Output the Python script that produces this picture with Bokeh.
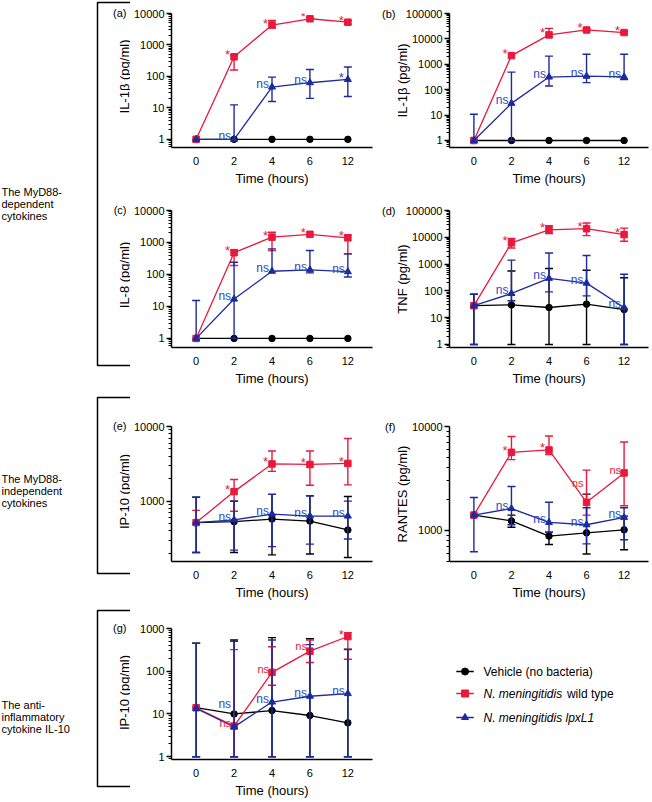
import math
from bokeh.plotting import figure
from bokeh.models import FactorRange, Range1d, FixedTicker, NumeralTickFormatter, LogAxis
from bokeh.layouts import row, column
from bokeh.core.properties import value
from bokeh.embed import file_html
from bokeh.resources import INLINE

# ---------------- data ----------------
TIMES = ["0", "2", "4", "6", "12"]

# (a) IL-1beta
A_VEH = [1, 1, 1, 1, 1]
A_WT = [1, 420, 4300, 6800, 5300]
A_WT_LO = [1, 160, 3500, 6800, 4600]
A_WT_HI = [1, 470, 6000, 7300, 6000]
A_LPX = [1, 1, 46, 63, 80]
A_LPX_LO = [1, 1, 16, 20, 23]
A_LPX_HI = [1, 12.5, 95, 165, 200]
A_SIG_WT = ["", "*", "*", "*", "*"]
A_SIG_LPX = ["", "ns", "ns", "ns", "*"]

# (b) IL-1beta
B_VEH = [1, 1, 1, 1, 1]
B_WT = [1, 2200, 14400, 22500, 17800]
B_WT_LO = [1, 2200, 11700, 20000, 15500]
B_WT_HI = [1, 2200, 26000, 25000, 19500]
B_LPX = [1, 29, 315, 340, 320]
B_LPX_LO = [1, 1, 140, 190, 250]
B_LPX_HI = [10.8, 490, 2100, 2500, 2500]
B_SIG_WT = ["", "*", "*", "*", "*"]
B_SIG_LPX = ["", "ns", "ns", "ns", "ns"]

# (c) IL-8
C_VEH = [1, 1, 1, 1, 1]
C_WT = [1, 480, 1470, 1800, 1400]
C_WT_LO = [1, 190, 560, 1800, 440]
C_WT_HI = [1, 590, 2100, 1800, 1700]
C_LPX = [1, 17, 126, 140, 122]
C_LPX_LO = [1, 1, 126, 112, 83]
C_LPX_HI = [15.4, 240, 630, 560, 440]
C_SIG_WT = ["", "*", "*", "*", "*"]
C_SIG_LPX = ["", "ns", "ns", "ns", "ns"]

# (d) TNF
D_VEH = [28, 30, 24, 32, 20]
D_VEH_LO = [1, 1, 1, 1, 1]
D_VEH_HI = [75, 550, 680, 590, 310]
D_WT = [28, 6200, 19000, 21000, 12600]
D_WT_LO = [28, 4000, 13700, 11500, 7100]
D_WT_HI = [28, 9000, 27000, 34000, 22000]
D_LPX = [28, 80, 295, 195, 24]
D_LPX_LO = [1, 43, 92, 65, 1]
D_LPX_HI = [75, 1400, 2600, 2100, 420]
D_SIG_WT = ["", "*", "*", "*", "*"]
D_SIG_LPX = ["", "ns", "ns", "ns", "ns"]

# (e) IP-10
E_VEH = [515, 530, 575, 540, 410]
E_VEH_LO = [205, 205, 190, 195, 175]
E_VEH_HI = [1130, 1000, 1230, 1180, 1150]
E_WT = [515, 1340, 3150, 3100, 3200]
E_WT_LO = [515, 730, 2500, 1630, 1650]
E_WT_HI = [750, 1950, 4700, 4700, 6900]
E_LPX = [515, 560, 670, 630, 630]
E_LPX_LO = [205, 220, 245, 265, 310]
E_LPX_HI = [1130, 1000, 1230, 1180, 1000]
E_SIG_WT = ["", "*", "*", "*", "*"]
E_SIG_LPX = ["", "ns", "ns", "ns", "ns"]

# (f) RANTES
F_VEH = [1400, 1230, 880, 945, 1010]
F_VEH_LO = [1400, 1070, 730, 590, 650]
F_VEH_HI = [1400, 1400, 960, 2230, 1370]
F_WT = [1400, 5640, 5940, 1860, 3570]
F_WT_LO = [1400, 4800, 5360, 1400, 1720]
F_WT_HI = [1400, 8000, 8100, 3800, 7100]
F_LPX = [1400, 1620, 1190, 1130, 1330]
F_LPX_LO = [620, 1130, 960, 740, 810]
F_LPX_HI = [2070, 2640, 1860, 1650, 1650]
F_SIG_WT = ["", "*", "*", "ns", "ns"]
F_SIG_LPX = ["", "ns", "ns", "ns", "ns"]

# (g) IL-10
G_VEH = [14, 10, 12, 9.2, 6.2]
G_VEH_LO = [1, 1, 1, 1, 1]
G_VEH_HI = [450, 540, 610, 575, 330]
G_WT = [14, 5.2, 94, 295, 650]
G_WT_LO = [14, 1, 47, 160, 190]
G_WT_HI = [14, 320, 375, 540, 800]
G_LPX = [13.4, 5.0, 19, 26, 30]
G_LPX_LO = [1, 1, 1, 1, 1]
G_LPX_HI = [450, 500, 540, 420, 320]
G_SIG_WT = ["", "ns", "ns", "ns", "*"]
G_SIG_LPX = ["", "ns", "ns", "ns", "ns"]

Y_LABELS = ["IL-1β (pg/ml)", "IL-1β (pg/ml)", "IL-8 (pg/ml)", "TNF (pg/ml)",
            "IP-10 (pg/ml)", "RANTES (pg/ml)", "IP-10 (pg/ml)"]
LETTERS = ["(a)", "(b)", "(c)", "(d)", "(e)", "(f)", "(g)"]
GROUPS = [["The MyD88-", "dependent", "cytokines"],
          ["The MyD88-", "independent", "cytokines"],
          ["The anti-", "inflammatory", "cytokine IL-10"]]
LEGEND = ["Vehicle (no bacteria)", "N. meningitidis", "wild type", "N. meningitidis lpxL1"]

# ---------------- style / layout ----------------
FONT = "Liberation Sans"
COL_VEH = "#000000"
COL_WT = "#E8193C"
COL_LPX = "#1D2A9E"
COL_LPX_TXT = "#2D47C4"

ROW_H = [190, 200, 212, 198]
ROW_TOP = [13, 20, 36, 26]
ROW_BOT = [43, 43, 38, 36]
LEFT_W = 130
LP_W, LP_BL, LP_BR = 249, 38, 7
RP_W, RP_BL, RP_BR = 271, 64, 2

# extra upward shifts (px) of a few significance labels, keyed (panel, series, time index)
SIG_NUDGE = {("f", "wt", 3): 16, ("g", "lpx", 1): 20, ("g", "wt", 3): 2}


def log_ticks(lo, hi):
    major, minor = [], []
    for k in range(-1, 7):
        b = 10 ** k if k >= 0 else 0.1
        if lo <= b <= hi:
            major.append(b)
        for m in range(2, 10):
            v = m * b
            if lo <= v <= hi:
                minor.append(v)
    return major, minor


def draw_series(p, vals, lo, hi, color, marker, size):
    p.line(TIMES, vals, line_color=color, line_width=1.3)
    for ends in (hi, lo):
        sel = [i for i in range(len(TIMES)) if abs(math.log10(ends[i] / vals[i])) > 0.01]
        xs = [TIMES[i] for i in sel]
        if not xs:
            continue
        y0 = [vals[i] for i in sel]
        y1 = [ends[i] for i in sel]
        p.segment(x0=xs, y0=y0, x1=xs, y1=y1, line_color=color, line_width=1.4)
        p.scatter(x=xs, y=y1, marker="dash", size=8, line_color=color, line_width=1.4)
    p.scatter(x=TIMES, y=vals, marker=marker, size=size, fill_color=color, line_color=color)


def draw_sig(p, key, series, vals, sig, color, ns_size):
    for i, s in enumerate(sig):
        if not s:
            continue
        if s == "*":
            fs, xo, yo = "13px", -4, -2
        else:
            fs, xo, yo = ns_size, -3, -3
        yo -= SIG_NUDGE.get((key, series, i), 0)
        p.text(x=[TIMES[i]], y=[vals[i]], text=[s], text_color=color,
               text_font=value(FONT), text_font_size=fs, text_align="right",
               text_baseline="alphabetic", x_offset=xo, y_offset=yo)


def style_common(p):
    p.outline_line_color = None
    p.grid.visible = False
    p.background_fill_color = "#ffffff"
    p.border_fill_color = "#ffffff"


def make_panel(key, r, right, yr, veh, wt, lpx, sig_wt, sig_lpx, ylabel=None, standoff=0,
               letter=None, red_ns="12px"):
    w, bl, br = (RP_W, RP_BL, RP_BR) if right else (LP_W, LP_BL, LP_BR)
    p = figure(width=w, height=ROW_H[r],
               x_range=FactorRange(factors=TIMES, range_padding=0.15, range_padding_units="absolute"),
               y_range=Range1d(*yr), y_axis_type="log", output_backend="svg",
               toolbar_location=None, min_border_left=bl, min_border_right=br,
               min_border_top=ROW_TOP[r], min_border_bottom=ROW_BOT[r])
    style_common(p)
    major, minor = log_ticks(*yr)
    ya = p.yaxis[0]
    ya.ticker = FixedTicker(ticks=major, minor_ticks=minor)
    ya.formatter = NumeralTickFormatter(format="0")
    ya.axis_line_width = 1.5
    ya.major_tick_line_width = 1.5
    ya.minor_tick_line_width = 1
    ya.major_tick_out, ya.major_tick_in = 5, 0
    ya.minor_tick_out, ya.minor_tick_in = 3, 0
    ya.major_label_standoff = 2
    ya.major_label_text_font = FONT
    ya.major_label_text_font_size = "11px"
    ya.major_label_text_color = "#000000"
    if ylabel:
        ya.axis_label = ylabel
        ya.axis_label_text_font = FONT
        ya.axis_label_text_font_size = "13px"
        ya.axis_label_text_font_style = "normal"
        ya.axis_label_text_color = "#000000"
        ya.axis_label_standoff = standoff
    xa = p.xaxis[0]
    xa.axis_line_width = 1.5
    xa.major_tick_line_color = None
    xa.major_tick_out = 0
    xa.major_tick_in = 0
    xa.major_label_standoff = 9
    xa.major_label_text_font = FONT
    xa.major_label_text_font_size = "11px"
    xa.major_label_text_color = "#000000"
    xa.axis_label = "Time (hours)"
    xa.axis_label_text_font = FONT
    xa.axis_label_text_font_size = "13px"
    xa.axis_label_text_font_style = "normal"
    xa.axis_label_text_color = "#000000"
    xa.axis_label_standoff = 3

    draw_series(p, *veh, COL_VEH, "circle", 6.5)
    draw_series(p, *wt, COL_WT, "square", 6.5)
    draw_series(p, *lpx, COL_LPX, "triangle", 7)
    draw_sig(p, key, "wt", wt[0], sig_wt, COL_WT, red_ns)
    draw_sig(p, key, "lpx", lpx[0], sig_lpx, COL_LPX_TXT, "12px")

    if letter:
        top = yr[1]
        ax2 = LogAxis(ticker=FixedTicker(ticks=[top]), major_label_overrides={top: letter},
                      axis_line_color=None, major_tick_line_color=None, minor_tick_line_color=None,
                      major_tick_out=0, major_tick_in=0, minor_tick_out=0, minor_tick_in=0,
                      major_label_standoff=-4, major_label_text_font=FONT,
                      major_label_text_font_size="11px", major_label_text_color="#000000")
        p.add_layout(ax2, "left")
    return p


pa = make_panel("a", 0, False, (0.55, 10000), (A_VEH, A_VEH, A_VEH),
                (A_WT, A_WT_LO, A_WT_HI), (A_LPX, A_LPX_LO, A_LPX_HI), A_SIG_WT, A_SIG_LPX)
pb = make_panel("b", 0, True, (0.53, 100000), (B_VEH, B_VEH, B_VEH),
                (B_WT, B_WT_LO, B_WT_HI), (B_LPX, B_LPX_LO, B_LPX_HI), B_SIG_WT, B_SIG_LPX,
                ylabel=Y_LABELS[1], standoff=-7, letter=LETTERS[1])
pc = make_panel("c", 1, False, (0.52, 10000), (C_VEH, C_VEH, C_VEH),
                (C_WT, C_WT_LO, C_WT_HI), (C_LPX, C_LPX_LO, C_LPX_HI), C_SIG_WT, C_SIG_LPX)
pd = make_panel("d", 1, True, (0.77, 100000), (D_VEH, D_VEH_LO, D_VEH_HI),
                (D_WT, D_WT_LO, D_WT_HI), (D_LPX, D_LPX_LO, D_LPX_HI), D_SIG_WT, D_SIG_LPX,
                ylabel=Y_LABELS[3], standoff=-7, letter=LETTERS[3])
pe = make_panel("e", 2, False, (155, 10000), (E_VEH, E_VEH_LO, E_VEH_HI),
                (E_WT, E_WT_LO, E_WT_HI), (E_LPX, E_LPX_LO, E_LPX_HI), E_SIG_WT, E_SIG_LPX)
pf = make_panel("f", 2, True, (500, 10000), (F_VEH, F_VEH_LO, F_VEH_HI),
                (F_WT, F_WT_LO, F_WT_HI), (F_LPX, F_LPX_LO, F_LPX_HI), F_SIG_WT, F_SIG_LPX,
                ylabel=Y_LABELS[5], standoff=-1, letter=LETTERS[5], red_ns="11px")
pg = make_panel("g", 3, False, (0.86, 1000), (G_VEH, G_VEH_LO, G_VEH_HI),
                (G_WT, G_WT_LO, G_WT_HI), (G_LPX, G_LPX_LO, G_LPX_HI), G_SIG_WT, G_SIG_LPX,
                red_ns="11px")

# ---------------- left annotation column ----------------
H_TOTAL = sum(ROW_H)
fl = figure(width=LEFT_W, height=H_TOTAL, x_range=Range1d(0, LEFT_W), y_range=Range1d(H_TOTAL, 0),
            x_axis_location=None, y_axis_location=None, output_backend="svg",
            toolbar_location=None, min_border=0)
style_common(fl)

BRACKETS = [(2, 365), (397, 573), (610, 786)]
GROUP_Y = [191, 478, 704]
for (t, b), lines, gy in zip(BRACKETS, GROUPS, GROUP_Y):
    fl.line(x=[LEFT_W, 97, 97, LEFT_W], y=[t, t, b, b], line_color="#000000", line_width=1.5)
    fl.text(x=[1] * len(lines), y=[gy + 12 * i for i in range(len(lines))], text=lines,
            text_font=value(FONT), text_font_size="11px", text_color="#000000",
            text_align="left", text_baseline="middle")

# y labels & letters of the left-column panels
row_starts = [sum(ROW_H[:i]) for i in range(4)]
frames = [(row_starts[i] + ROW_TOP[i], row_starts[i] + ROW_H[i] - ROW_BOT[i]) for i in range(4)]
left_labels = [Y_LABELS[0], Y_LABELS[2], Y_LABELS[4], Y_LABELS[6]]
left_letters = [LETTERS[0], LETTERS[2], LETTERS[4], LETTERS[6]]
fl.text(x=[123.5] * 4, y=[(a + b) / 2 - 4 for a, b in frames], text=left_labels,
        angle=math.pi / 2, text_font=value(FONT), text_font_size="13px", text_color="#000000",
        text_align="center", text_baseline="middle")
fl.text(x=[126] * 4, y=[a - 1 for a, b in frames], text=left_letters,
        text_font=value(FONT), text_font_size="11px", text_color="#000000",
        text_align="right", text_baseline="middle")

# ---------------- legend (same borders as the panels above it) ----------------
LFW = RP_W - RP_BL - RP_BR
LFH = ROW_H[3] - ROW_TOP[3] - ROW_BOT[3]
fleg = figure(width=RP_W, height=ROW_H[3], x_range=Range1d(0, LFW), y_range=Range1d(LFH, 0),
              x_axis_location=None, y_axis_location=None, output_backend="svg",
              toolbar_location=None, min_border_left=RP_BL, min_border_right=RP_BR,
              min_border_top=ROW_TOP[3], min_border_bottom=ROW_BOT[3])
style_common(fleg)
leg_y = [43, 65, 89]
leg_colors = [COL_VEH, COL_WT, COL_LPX]
leg_markers = ["circle", "square", "triangle"]
for yy, col, mk in zip(leg_y, leg_colors, leg_markers):
    fleg.line(x=[7, 25], y=[yy, yy], line_color=col, line_width=1.5)
    fleg.scatter(x=[16], y=[yy], marker=mk, size=7, fill_color=col, line_color=col)
fleg.text(x=[35], y=[leg_y[0]], text=[LEGEND[0]], text_font=value(FONT), text_font_size="12px",
          text_baseline="middle", text_color="#000000")
fleg.text(x=[35], y=[leg_y[1]], text=[LEGEND[1]], text_font=value(FONT), text_font_size="12px",
          text_font_style="italic", text_baseline="middle", text_color="#000000")
fleg.text(x=[35 + 86], y=[leg_y[1]], text=[LEGEND[2]], text_font=value(FONT), text_font_size="12px",
          text_baseline="middle", text_color="#000000")
fleg.text(x=[35], y=[leg_y[2]], text=[LEGEND[3]], text_font=value(FONT), text_font_size="12px",
          text_font_style="italic", text_baseline="middle", text_color="#000000")

layout = row(fl, column(pa, pc, pe, pg), column(pb, pd, pf, fleg))

open("out.html", "w").write(file_html(layout, INLINE))
